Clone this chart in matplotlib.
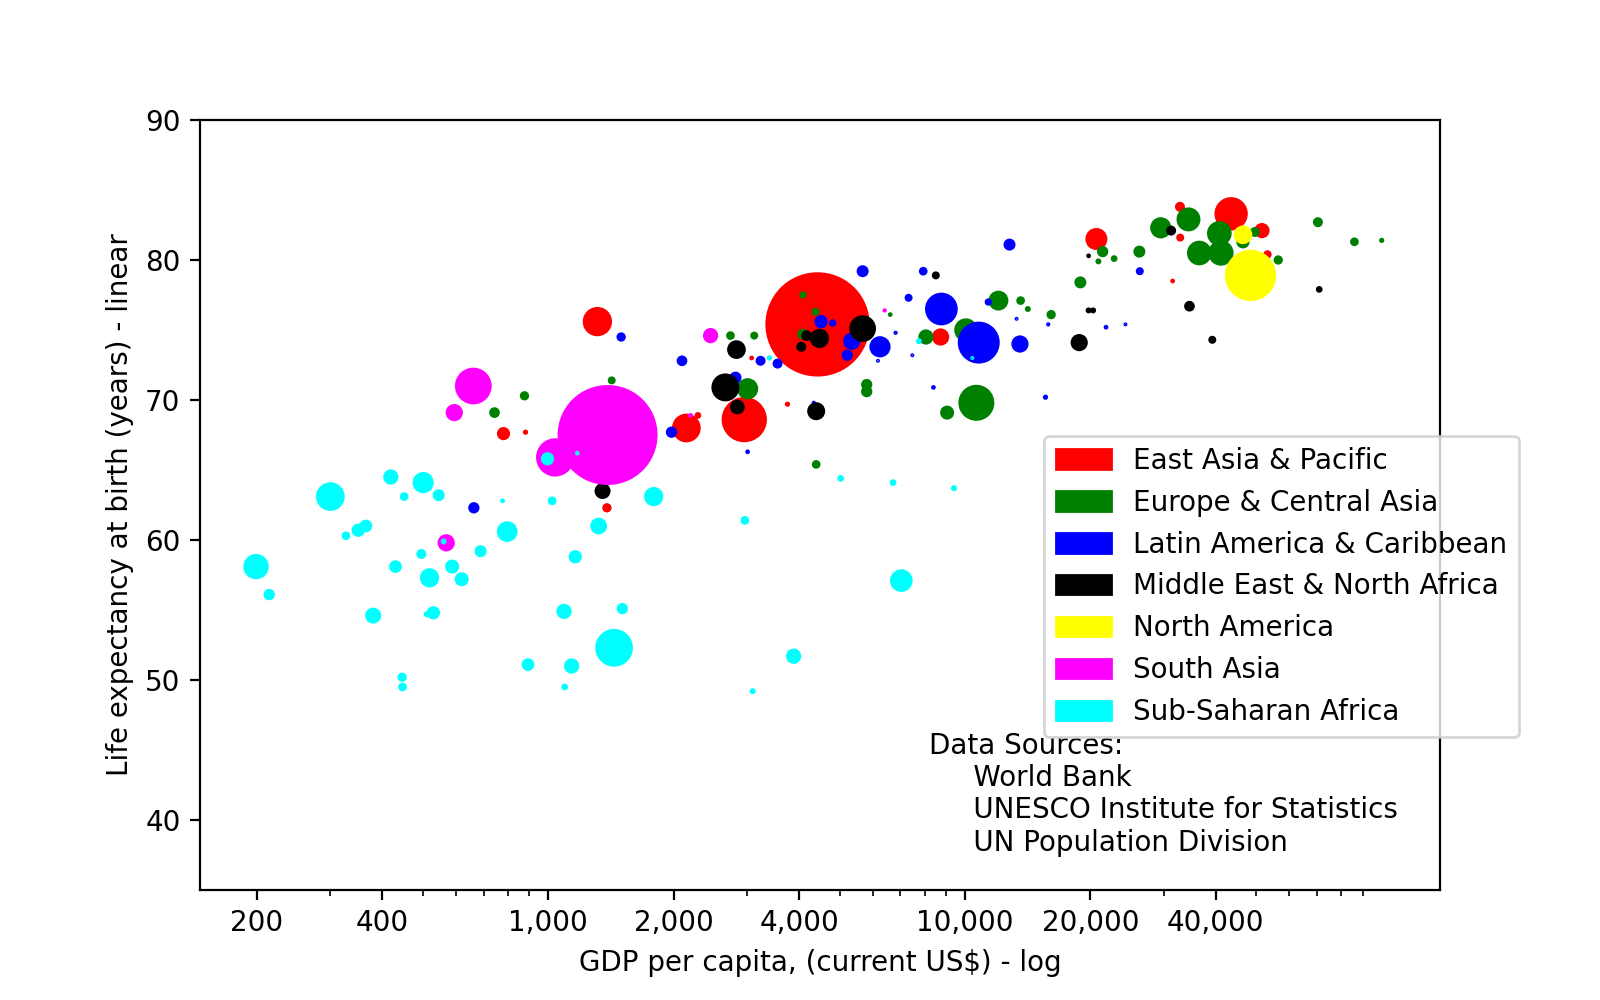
import matplotlib
matplotlib.use("Agg")
import matplotlib.pyplot as plt
import matplotlib.patches as mpatches

# region names and colours (legend order)
regions = ["East Asia & Pacific", "Europe & Central Asia", "Latin America & Caribbean",
           "Middle East & North Africa", "North America", "South Asia", "Sub-Saharan Africa"]
colors = ["red", "green", "blue", "black", "yellow", "magenta", "cyan"]

# East Asia & Pacific
eap_gdp = [4428, 2954, 43520, 2145, 1312, 20670, 8740, 51600, 781, 1383, 32800, 32850,
           53200, 882, 3077, 2286, 3750, 31500]
eap_life = [75.4, 68.6, 83.3, 68.0, 75.6, 81.5, 74.5, 82.1, 67.6, 62.3, 83.8, 81.6,
            80.4, 67.7, 73.0, 68.9, 69.7, 78.5]
eap_pop = [1335, 234, 121, 87, 91, 48, 27, 20, 14, 5.5, 6.7, 3.5,
           4, 0.8, 0.5, 2, 0.8, 0.5]

# Europe & Central Asia
eca_gdp = [10650, 41130, 40770, 36500, 29500, 34380, 10050, 3009, 12030, 9060, 46460,
           8060, 49600, 56450, 70300, 86000, 100000, 26210, 21400, 20900, 22800, 18920,
           16100, 13600, 14150, 5810, 5810, 4395, 4083, 4378, 4077, 6616, 2737, 3121,
           1420, 877, 743]
eca_life = [69.8, 80.5, 81.9, 80.5, 82.3, 82.9, 75.0, 70.8, 77.1, 69.1, 81.3,
            74.5, 82.0, 80.0, 82.7, 81.3, 81.4, 80.6, 80.6, 79.9, 80.1, 78.4,
            76.1, 77.1, 76.5, 71.1, 70.6, 65.4, 77.5, 76.3, 74.7, 76.1, 74.6, 74.6,
            71.4, 70.3, 69.1]
eca_pop = [143, 66, 62, 62, 44, 58, 54.5, 44, 38, 16.3, 14.3,
           20, 6.7, 5.5, 6.7, 4.5, 0.8, 11, 9.4, 1.3, 2, 11,
           5.5, 4.5, 1.3, 9.4, 9.4, 4.5, 2.6, 3.5, 8.1, 0.5, 4.5, 3.5,
           3.5, 5.5, 8.1]

# Latin America & Caribbean
lac_gdp = [10790, 8778, 6252, 5350, 13550, 12790, 5681, 2814, 2094, 1976, 663, 1496,
           4515, 4815, 5218, 3232, 3550, 7940, 7323, 11376, 26270, 15600, 8400, 3009,
           4337, 6183, 7476, 13300, 24270, 6817, 15840, 21800]
lac_life = [74.1, 76.5, 73.8, 74.2, 74.0, 81.1, 79.2, 71.6, 72.8, 67.7, 62.3, 74.5,
            75.6, 75.5, 73.2, 72.8, 72.6, 79.2, 77.3, 77.0, 79.2, 70.2, 70.9, 66.3,
            69.8, 72.8, 73.2, 75.8, 75.4, 74.8, 75.4, 75.2]
lac_pop = [199, 116, 44, 27, 27, 11, 11, 11, 8.1, 9.4, 9.4, 5.5,
           14.3, 2.6, 9.4, 6.7, 6.7, 4.5, 3.5, 2.6, 3.5, 0.8, 0.5, 0.5,
           0.3, 0.2, 0.2, 0.2, 0.2, 0.3, 0.3, 0.5]

# Middle East & North Africa
mena_gdp = [2661, 5681, 2829, 2843, 4395, 1350, 18800, 4475, 4168, 4047, 8511, 31240,
            34570, 39220, 70800, 19800, 20300, 19800]
mena_life = [70.9, 75.1, 73.6, 69.5, 69.2, 63.5, 74.1, 74.4, 74.6, 73.8, 78.9, 82.1,
             76.7, 74.3, 77.9, 76.4, 76.4, 80.3]
mena_pop = [82, 74, 32.8, 18.4, 30, 22.6, 27, 35, 8.1, 6.7, 3.5, 6.7,
            8.1, 3.5, 2, 1.3, 1.3, 0.5]

# North America
na_gdp = [48450, 46460]
na_life = [78.9, 81.8]
na_pop = [305, 32.8]

# South Asia
sa_gdp = [1388, 1039, 661, 595, 569, 2452, 2195, 6417]
sa_life = [67.5, 65.9, 71.0, 69.1, 59.8, 74.6, 68.9, 76.4]
sa_pop = [1224, 163, 149, 27, 27, 20, 0.5, 0.3]

# Sub-Saharan Africa
ssa_gdp = [1439, 300, 199, 7035, 797, 501, 519, 1791, 1321, 3880, 380, 1091, 1138, 419,
           350, 365, 530, 894, 1161, 996, 430, 588, 620, 546, 688, 1506, 214, 496, 446,
           447, 327, 451, 1022, 2964, 1095, 511, 561, 5034, 6720, 9410, 3094, 1174, 777,
           3396, 7750, 10415]
ssa_life = [52.3, 63.1, 58.1, 57.1, 60.6, 64.1, 57.3, 63.1, 61.0, 51.7, 54.6, 54.9, 51.0, 64.5,
            60.7, 61.0, 54.8, 51.1, 58.8, 65.8, 58.1, 58.1, 57.2, 63.2, 59.2, 55.1, 56.1, 59.0, 50.2,
            49.5, 60.3, 63.1, 62.8, 61.4, 49.5, 54.7, 59.9, 64.4, 64.1, 63.7, 49.2, 66.2, 62.8,
            73.0, 74.2, 73.0]
ssa_pop = [158, 87, 66, 51, 41.5, 44, 35, 35, 25, 20, 22.6, 20, 20, 20,
           14.3, 12.7, 14.3, 12.7, 14.3, 14.3, 12.7, 16.3, 16.3, 11, 11, 9.4, 9.4, 6.7, 5.5,
           4.5, 4.5, 4.5, 4.5, 4.5, 2, 1.3, 1.3, 2, 2, 1.3, 1.3, 0.5, 0.5,
           0.8, 1.3, 0.2]

gdp = [eap_gdp, eca_gdp, lac_gdp, mena_gdp, na_gdp, sa_gdp, ssa_gdp]
life = [eap_life, eca_life, lac_life, mena_life, na_life, sa_life, ssa_life]
pop = [eap_pop, eca_pop, lac_pop, mena_pop, na_pop, sa_pop, ssa_pop]

xticks = [200, 400, 1000, 2000, 4000, 10000, 20000, 40000]
xticklabels = ["200", "400", "1,000", "2,000", "4,000", "10,000", "20,000", "40,000"]

fig, ax = plt.subplots(figsize=(8, 5), dpi=200)

for g, l, p, c in zip(gdp, life, pop, colors):
    ax.scatter(g, l, s=p, c=c, linewidths=1)

ax.set_xscale("log")
ax.set_xlim(146, 138000)
ax.set_ylim(35, 90)
ax.set_xticks(xticks, xticklabels)
ax.set_yticks([40, 50, 60, 70, 80, 90])
ax.set_xlabel("GDP per capita, (current US$) - log")
ax.set_ylabel("Life expectancy at birth (years) - linear")

handles = [mpatches.Patch(color=c, label=r) for r, c in zip(regions, colors)]
ax.legend(handles=handles, loc="upper left", bbox_to_anchor=(0.681, 0.590),
          borderaxespad=0)

# the text block hangs from the last line's baseline
ax.text(8200, 37.8, "Data Sources:\n     World Bank\n     UNESCO Institute for Statistics\n"
        "     UN Population Division")

fig.savefig("out.png")
